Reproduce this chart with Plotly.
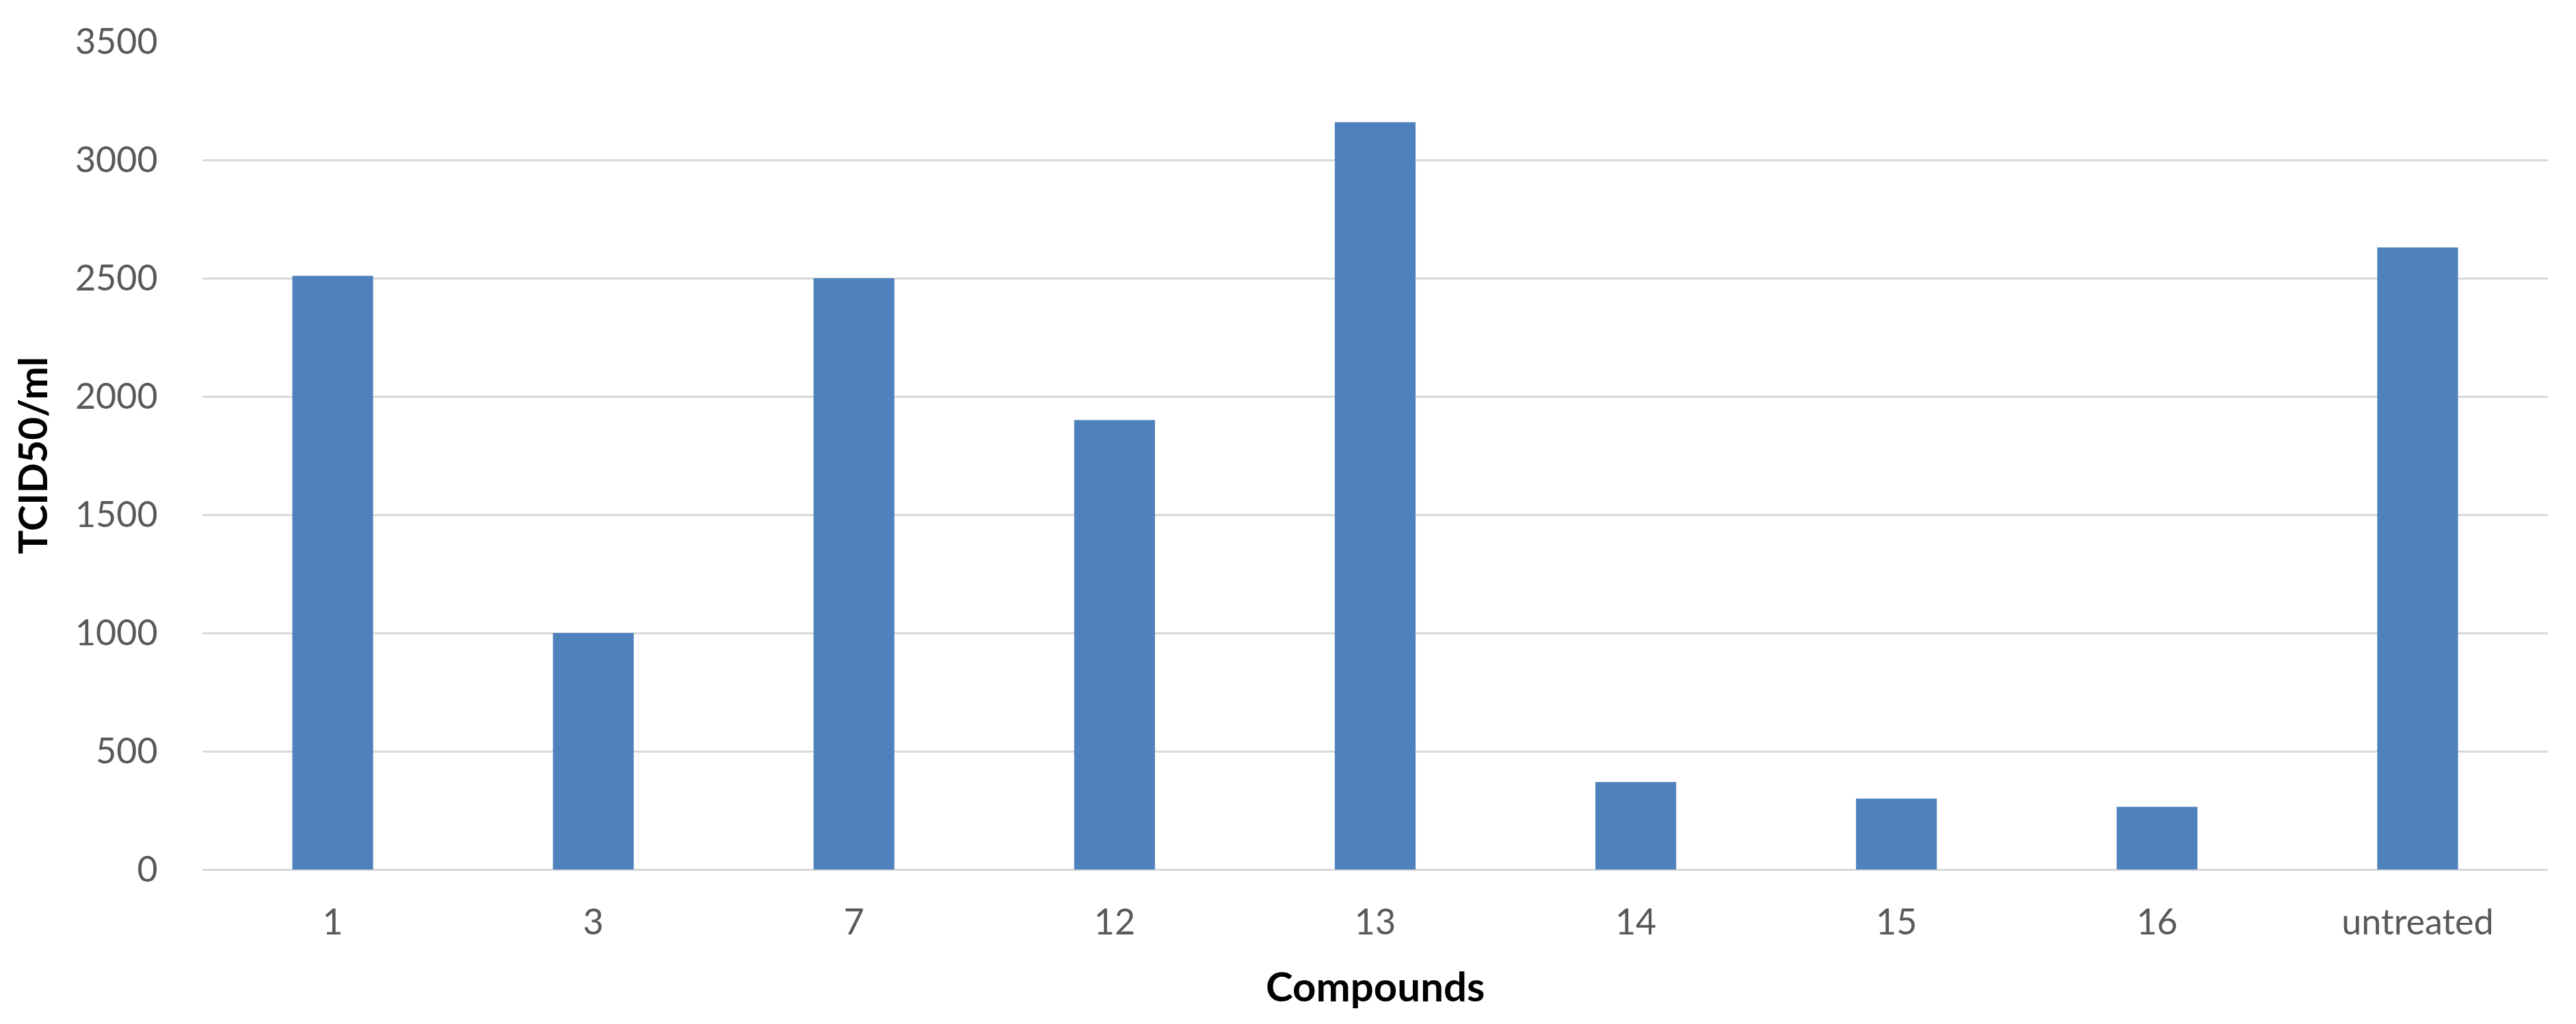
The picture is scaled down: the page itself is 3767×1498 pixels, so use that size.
import plotly.graph_objects as go

# Data
compounds = ["1", "3", "7", "12", "13", "14", "15", "16", "untreated"]
tcid50 = [2510, 1000, 2500, 1900, 3160, 370, 300, 265, 2630]
y_ticks = [0, 500, 1000, 1500, 2000, 2500, 3000, 3500]

W, H = 3767, 1498
L, R, T, B = 288, 49, 53, 234
plot_w = W - L - R
plot_h = H - T - B

fig = go.Figure()
fig.add_trace(go.Bar(
    x=compounds,
    y=tcid50,
    marker=dict(color="#4F81BD", line=dict(width=0)),
))

font_main = "Lato, 'Open Sans', Arial, sans-serif"

fig.update_layout(
    width=W, height=H,
    margin=dict(l=L, r=R, t=T, b=B, autoexpand=False),
    paper_bgcolor="white",
    plot_bgcolor="white",
    bargap=0.69,
    showlegend=False,
    font=dict(family=font_main, size=52, color="#595959"),
    xaxis=dict(
        type="category",
        showgrid=False,
        showline=False,
        zeroline=False,
        ticks="outside",
        ticklen=32,
        tickcolor="rgba(0,0,0,0)",
        tickfont=dict(family=font_main, size=52, color="#595959"),
        automargin=False,
    ),
    yaxis=dict(
        range=[0, 3500],
        tickvals=y_ticks,
        ticktext=[str(v) for v in y_ticks],
        showgrid=True,
        gridcolor="#d9d9d9",
        gridwidth=3,
        zeroline=True,
        zerolinecolor="#d9d9d9",
        zerolinewidth=3,
        showline=False,
        ticks="outside",
        ticklen=54,
        tickcolor="rgba(0,0,0,0)",
        tickfont=dict(family=font_main, size=52, color="#595959"),
        automargin=False,
    ),
    annotations=[
        dict(
            text="<b>TCID50/ml</b>",
            xref="paper", yref="paper",
            x=(38 - L) / plot_w, y=0.5,
            xanchor="center", yanchor="middle",
            textangle=-90, showarrow=False,
            font=dict(family=font_main, size=58, color="black"),
        ),
        dict(
            text="<b>Compounds</b>",
            xref="paper", yref="paper",
            x=0.5, y=-(1434 - (T + plot_h)) / plot_h,
            xanchor="center", yanchor="middle",
            showarrow=False,
            font=dict(family=font_main, size=60, color="black"),
        ),
    ],
)

fig.write_html("out.html")
